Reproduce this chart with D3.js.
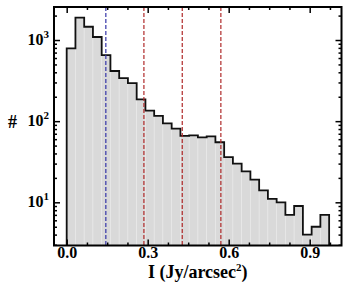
<!DOCTYPE html>
<html>
<head>
<meta charset="utf-8">
<script src="https://cdn.jsdelivr.net/npm/d3@7"></script>
<style>
  body { margin: 0; background: #fff; }
  svg { display: block; font-family: "Liberation Serif", "Times New Roman", serif; font-weight: bold; }
</style>
</head>
<body>
<svg></svg>
<script>
// histogram counts, 30 bins of width 0.0324 starting at 0
let binWidth = 0.0324
let counts = [790, 1884, 1458, 1089, 653, 415, 340, 295, 186, 135,
              116, 94, 81, 66, 67, 63, 65, 55, 36, 30,
              24, 19, 14, 11, 10, 7, 9, 4, 5, 7]
let blueLines = [0.145]
let redLines = [0.286, 0.428, 0.571]
let xTicks = [0, 0.3, 0.6, 0.9]
let yTicks = [10, 100, 1000]

let width = 350
let height = 300
let plotLeft = 54
let plotRight = 341.5
let plotTop = 7
let plotBottom = 245.5

let svg = d3.select("svg").attr("width", width).attr("height", height)

let xScale = d3.scaleLinear().domain([-0.047, 1.0178]).range([plotLeft, plotRight])
let yScale = d3.scaleLog().domain([2.936, 2552]).range([plotBottom, plotTop])

let bins = counts.map((c, i) => ({x0: i * binWidth, x1: (i + 1) * binWidth, count: c}))

// bars
svg.selectAll("rect.bar")
   .data(bins)
   .enter()
   .append("rect")
   .attr("class", "bar")
   .attr("x", (d) => xScale(d.x0))
   .attr("width", (d) => xScale(d.x1) - xScale(d.x0))
   .attr("y", (d) => yScale(d.count))
   .attr("height", (d) => plotBottom - yScale(d.count))
   .attr("fill", "#d9d9d9")
   .attr("stroke", "#e9e9e9")
   .attr("stroke-width", 0.6)

// step outline
let pts = [[bins[0].x0, yScale.domain()[0]]]
bins.forEach((d) => {
  pts.push([d.x0, d.count])
  pts.push([d.x1, d.count])
})
pts.push([bins[bins.length - 1].x1, yScale.domain()[0]])

let line = d3.line().x((d) => xScale(d[0])).y((d) => yScale(d[1]))
svg.append("path")
   .attr("d", line(pts))
   .attr("fill", "none")
   .attr("stroke", "#111")
   .attr("stroke-width", 1.8)

// dashed markers
let drawMarkers = (vals, color) => {
  svg.selectAll(null)
     .data(vals)
     .enter()
     .append("line")
     .attr("x1", (d) => xScale(d))
     .attr("x2", (d) => xScale(d))
     .attr("y1", plotTop)
     .attr("y2", plotBottom)
     .attr("stroke", color)
     .attr("stroke-width", 1.2)
     .attr("stroke-dasharray", "4,2")
}
drawMarkers(blueLines, "#3535a8")
drawMarkers(redLines, "#b02a2a")

// minor ticks
let xMinor = d3.range(0, 1.01, 0.075).filter((v) => !xTicks.some((t) => Math.abs(t - v) < 1e-6))
let yMinor = []
;[1, 10, 100, 1000].forEach((p) => {
  for (let k = 2; k <= 9; k++) {
    let v = k * p
    if (v > yScale.domain()[0] && v < yScale.domain()[1]) yMinor.push(v)
  }
})

let styleAxis = (g) => {
  g.select(".domain").remove()
  g.selectAll(".tick line").attr("stroke", "#000").attr("stroke-width", 1.5)
}

// x axes
svg.append("g")
   .attr("transform", "translate(0," + plotBottom + ")")
   .call(d3.axisBottom(xScale).tickValues(xTicks).tickSize(-6).tickPadding(1.5).tickFormat(d3.format(".1f")))
   .call(styleAxis)
   .selectAll("text")
   .attr("font-size", 16)
   .attr("font-family", "Liberation Serif, serif")
   .attr("font-weight", "bold")
   .attr("fill", "#000")

svg.append("g")
   .attr("transform", "translate(0," + plotBottom + ")")
   .call(d3.axisBottom(xScale).tickValues(xMinor).tickSize(-3).tickFormat(""))
   .call(styleAxis)

svg.append("g")
   .attr("transform", "translate(0," + plotTop + ")")
   .call(d3.axisTop(xScale).tickValues(xTicks).tickSize(-6).tickFormat(""))
   .call(styleAxis)

svg.append("g")
   .attr("transform", "translate(0," + plotTop + ")")
   .call(d3.axisTop(xScale).tickValues(xMinor).tickSize(-3).tickFormat(""))
   .call(styleAxis)

// y axes
let yAxisG = svg.append("g")
   .attr("transform", "translate(" + plotLeft + ",0)")
   .call(d3.axisLeft(yScale).tickValues(yTicks).tickSize(-6).tickPadding(5).tickFormat(""))
   .call(styleAxis)

yAxisG.selectAll(".tick text")
   .attr("font-size", 16)
   .attr("font-family", "Liberation Serif, serif")
   .attr("font-weight", "bold")
   .attr("fill", "#000")
   .attr("dy", "0.25em")
   .each(function (d) {
     let t = d3.select(this)
     t.append("tspan").text("10")
     t.append("tspan").text(Math.round(Math.log10(d))).attr("font-size", 11).attr("dy", -7)
   })

svg.append("g")
   .attr("transform", "translate(" + plotLeft + ",0)")
   .call(d3.axisLeft(yScale).tickValues(yMinor).tickSize(-3).tickFormat(""))
   .call(styleAxis)

svg.append("g")
   .attr("transform", "translate(" + plotRight + ",0)")
   .call(d3.axisRight(yScale).tickValues(yTicks).tickSize(-6).tickFormat(""))
   .call(styleAxis)

svg.append("g")
   .attr("transform", "translate(" + plotRight + ",0)")
   .call(d3.axisRight(yScale).tickValues(yMinor).tickSize(-3).tickFormat(""))
   .call(styleAxis)

// frame
svg.append("rect")
   .attr("x", plotLeft)
   .attr("y", plotTop)
   .attr("width", plotRight - plotLeft)
   .attr("height", plotBottom - plotTop)
   .attr("fill", "none")
   .attr("stroke", "#000")
   .attr("stroke-width", 2)

// axis titles
let xTitle = svg.append("text")
   .attr("x", (plotLeft + plotRight) / 2)
   .attr("y", 278)
   .attr("text-anchor", "middle")
   .attr("font-size", 18)
xTitle.append("tspan").text("I (Jy/arcsec")
xTitle.append("tspan").text("2").attr("font-size", 11).attr("dy", -7)
xTitle.append("tspan").text(")").attr("dy", 7)

svg.append("text")
   .attr("x", 12.5)
   .attr("y", 128)
   .attr("text-anchor", "middle")
   .attr("font-size", 18)
   .text("#")
</script>
</body>
</html>
